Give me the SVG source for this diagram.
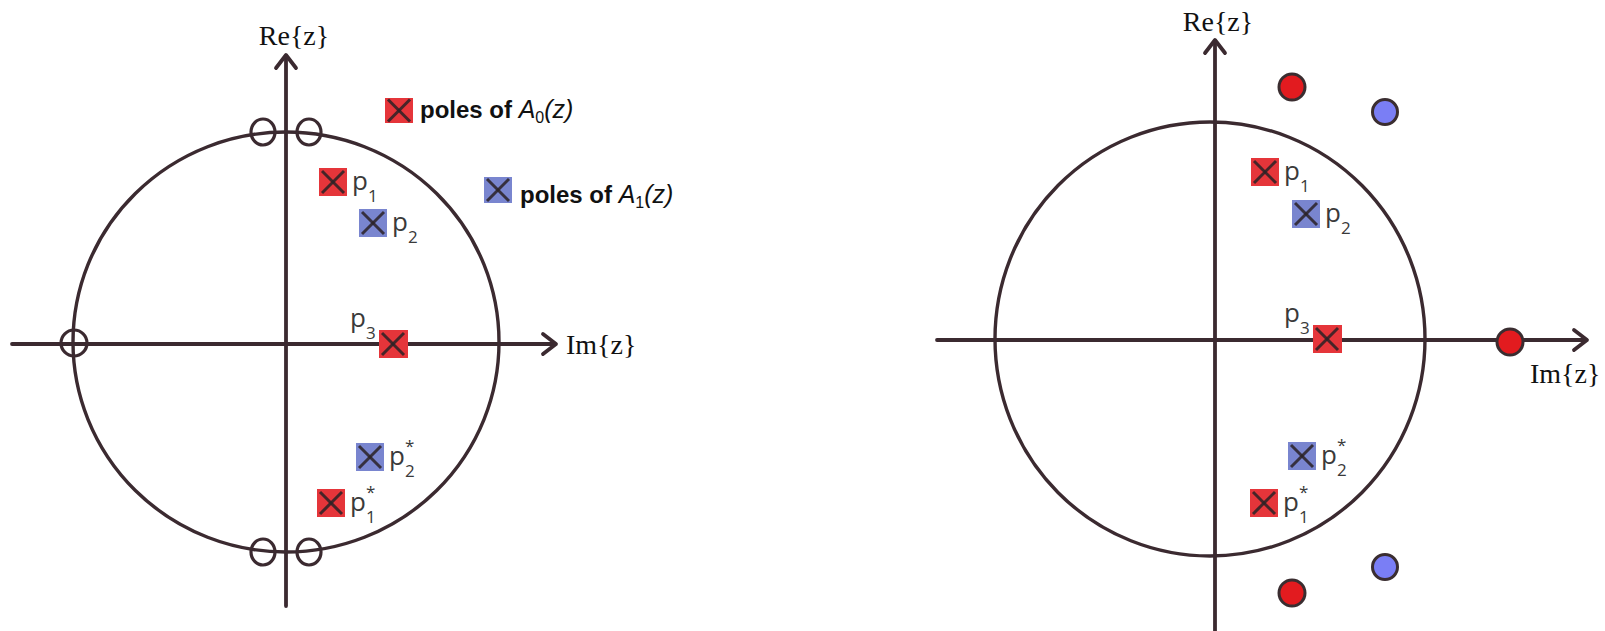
<svg xmlns="http://www.w3.org/2000/svg" width="1605" height="631" viewBox="0 0 1605 631">
<defs>
<style>
.ax{stroke:#3b2a30;stroke-width:3.8;fill:none;stroke-linecap:round;stroke-linejoin:round}
.uc{stroke:#3b2a30;stroke-width:3.4;fill:none}
.zero{stroke:#3b2a30;stroke-width:3.2;fill:none}
.axl{font-family:"Liberation Serif",serif;font-size:28px;fill:#111}
.pl{font-family:"Open Sans","Liberation Sans",sans-serif;font-size:26px;fill:#3a3a3a}
.ps{font-family:"Open Sans","Liberation Sans",sans-serif;font-size:17px;fill:#3a3a3a}
.lg{font-family:"Liberation Sans",Arial,sans-serif;font-size:24px;font-weight:bold;fill:#111}
.lgm{font-family:"Liberation Sans",Arial,sans-serif;font-size:25px;font-style:italic;font-weight:normal;fill:#111}
.lgs{font-family:"Liberation Sans",Arial,sans-serif;font-size:16px;font-weight:normal;fill:#111}
.red{fill:#e5353a}
.blue{fill:#7985cf}
.x{stroke:#2b2226;stroke-width:3;opacity:0.85}
.dr{fill:#e21b1f;stroke:#3a2d30;stroke-width:3}
.db{fill:#7a7ef5;stroke:#3a2d30;stroke-width:3}
</style>
<g id="pole">
<line class="x" x1="-11" y1="-11" x2="11" y2="11"/>
<line class="x" x1="11" y1="-11" x2="-11" y2="11"/>
</g>
</defs>
<rect width="1605" height="631" fill="#ffffff"/>

<!-- LEFT DIAGRAM -->
<g id="left-axes">
<line class="ax" x1="12" y1="344" x2="554" y2="344"/>
<polyline class="ax" points="543,334 556,344 543,354"/>
<line class="ax" x1="286" y1="606" x2="286" y2="57"/>
<polyline class="ax" points="276,68 286,55 296,68"/>
<text class="axl" x="294" y="45" text-anchor="middle">Re{z}</text>
<text class="axl" x="566" y="354">Im{z}</text>
</g>
<ellipse id="left-unit-circle" class="uc" cx="286" cy="342" rx="213" ry="210"/>
<g id="left-zeros">
<ellipse class="zero" cx="263" cy="132" rx="12" ry="13"/>
<ellipse class="zero" cx="309" cy="132" rx="12" ry="13"/>
<ellipse class="zero" cx="263" cy="552" rx="12" ry="13"/>
<ellipse class="zero" cx="309" cy="552" rx="12" ry="13"/>
<circle class="zero" cx="74" cy="343" r="13"/>
</g>
<g id="left-p1">
<rect class="red" x="319" y="168" width="28" height="28"/>
<use href="#pole" x="333" y="182"/>
<text class="pl" x="352" y="190">p</text><text class="ps" x="368" y="202">1</text>
</g>
<g id="left-p2">
<rect class="blue" x="359" y="209" width="28" height="28"/>
<use href="#pole" x="373" y="223"/>
<text class="pl" x="392" y="231">p</text><text class="ps" x="408" y="243">2</text>
</g>
<g id="left-p3">
<rect class="red" x="379" y="330" width="29" height="28"/>
<use href="#pole" x="393" y="344"/>
<text class="pl" x="350" y="327">p</text><text class="ps" x="366" y="339">3</text>
</g>
<g id="left-p2c">
<rect class="blue" x="356" y="443" width="28" height="28"/>
<use href="#pole" x="370" y="457"/>
<text class="pl" x="389" y="465">p</text><text class="ps" x="405" y="477">2</text><text class="ps" x="405" y="452">*</text>
</g>
<g id="left-p1c">
<rect class="red" x="317" y="489" width="28" height="28"/>
<use href="#pole" x="331" y="503"/>
<text class="pl" x="350" y="511">p</text><text class="ps" x="366" y="523">1</text><text class="ps" x="366" y="498">*</text>
</g>
<g id="legend-a0">
<rect class="red" x="385" y="98" width="28" height="25"/>
<use href="#pole" x="399" y="110.5"/>
<text class="lg" x="420" y="118">poles of <tspan class="lgm">A</tspan><tspan class="lgs" dy="5">0</tspan><tspan class="lgm" dy="-5">(z)</tspan></text>
</g>
<g id="legend-a1">
<rect class="blue" x="484" y="177" width="28" height="26"/>
<use href="#pole" x="498" y="190"/>
<text class="lg" x="520" y="203">poles of <tspan class="lgm">A</tspan><tspan class="lgs" dy="5">1</tspan><tspan class="lgm" dy="-5">(z)</tspan></text>
</g>

<!-- RIGHT DIAGRAM -->
<g id="right-axes">
<line class="ax" x1="937" y1="340" x2="1585" y2="340"/>
<polyline class="ax" points="1574,330 1587,340 1574,350"/>
<line class="ax" x1="1215" y1="631" x2="1215" y2="42"/>
<polyline class="ax" points="1205,53 1215,40 1225,53"/>
<text class="axl" x="1218" y="31" text-anchor="middle">Re{z}</text>
<text class="axl" x="1530" y="383">Im{z}</text>
</g>
<ellipse id="right-unit-circle" class="uc" cx="1210" cy="339" rx="215" ry="217"/>
<g id="right-p1">
<rect class="red" x="1251" y="158" width="28" height="28"/>
<use href="#pole" x="1265" y="172"/>
<text class="pl" x="1284" y="180">p</text><text class="ps" x="1300" y="192">1</text>
</g>
<g id="right-p2">
<rect class="blue" x="1292" y="200" width="28" height="28"/>
<use href="#pole" x="1306" y="214"/>
<text class="pl" x="1325" y="222">p</text><text class="ps" x="1341" y="234">2</text>
</g>
<g id="right-p3">
<rect class="red" x="1313" y="325" width="29" height="28"/>
<use href="#pole" x="1327" y="339"/>
<text class="pl" x="1284" y="322">p</text><text class="ps" x="1300" y="334">3</text>
</g>
<g id="right-p2c">
<rect class="blue" x="1288" y="442" width="28" height="28"/>
<use href="#pole" x="1302" y="456"/>
<text class="pl" x="1321" y="464">p</text><text class="ps" x="1337" y="476">2</text><text class="ps" x="1337" y="451">*</text>
</g>
<g id="right-p1c">
<rect class="red" x="1250" y="489" width="28" height="28"/>
<use href="#pole" x="1264" y="503"/>
<text class="pl" x="1283" y="511">p</text><text class="ps" x="1299" y="523">1</text><text class="ps" x="1299" y="498">*</text>
</g>
<g id="right-dots">
<circle class="dr" cx="1292" cy="87" r="13"/>
<circle class="db" cx="1385" cy="112" r="12.5"/>
<circle class="dr" cx="1510" cy="342" r="13"/>
<circle class="db" cx="1385" cy="567" r="12.5"/>
<circle class="dr" cx="1292" cy="593" r="13"/>
</g>
</svg>
